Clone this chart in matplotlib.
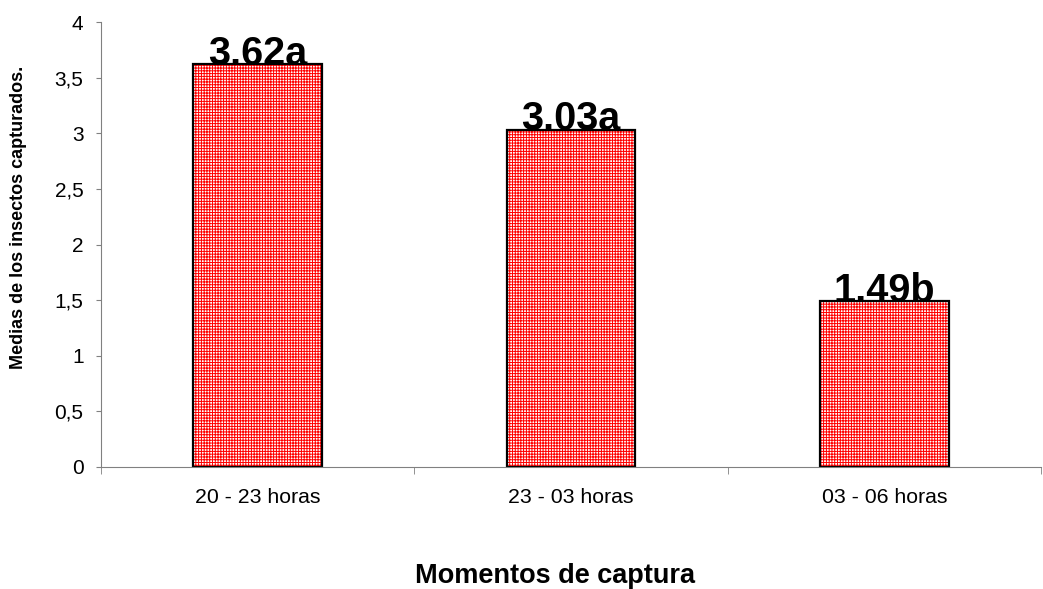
import matplotlib
matplotlib.use("Agg")
import matplotlib.pyplot as plt

categories = ["20 - 23 horas", "23 - 03 horas", "03 - 06 horas"]
values = [3.62, 3.03, 1.49]
labels = ["3.62a", "3.03a", "1.49b"]
yticks = [0, 0.5, 1, 1.5, 2, 2.5, 3, 3.5, 4]
ytick_labels = ["0", "0,5", "1", "1,5", "2", "2,5", "3", "3,5", "4"]

plt.rcParams['font.family'] = ['Liberation Sans', 'DejaVu Sans']
plt.rcParams['hatch.linewidth'] = 0.7

fig = plt.figure(figsize=(10.43, 5.89), dpi=100)
ax = fig.add_axes([101/1043, 1 - 467/589, 940/1043, 445/589])

x = list(range(len(categories)))
ax.bar(x, values, width=0.41, color='white', edgecolor='#ff0000', hatch='++++++', linewidth=0)
ax.bar(x, values, width=0.41, fill=False, edgecolor='black', linewidth=1.6)

for xi, v, lab in zip(x, values, labels):
    ax.text(xi, v - 0.005, lab, ha='center', va='baseline', fontsize=28.5, fontweight='bold')

ax.set_xlim(-0.5, 2.5)
ax.set_ylim(0, 4)
ax.set_yticks(yticks)
ax.set_yticklabels(ytick_labels, fontsize=15)
ax.set_xticks(x)
ax.set_xticklabels(categories, fontsize=15.3)
ax.tick_params(axis='x', length=0, pad=15)
ax.set_xticks([-0.5, 0.5, 1.5, 2.5], minor=True)
ax.tick_params(axis='x', which='minor', length=5, color='#808080')
ax.tick_params(axis='y', length=3.6, color='#808080', pad=9)

for s in ['top', 'right']:
    ax.spines[s].set_visible(False)
ax.spines['left'].set_color('#808080')
ax.spines['bottom'].set_color('#808080')

fig.text(19/1043, 1 - 217/589, "Medias de los insectos capturados.", rotation=90,
         ha='center', va='center', fontsize=13, fontweight='bold')
fig.text(555/1043, 1 - 576/589, "Momentos de captura", ha='center', va='center', fontsize=19.5, fontweight='bold')

fig.savefig("out.png", dpi=100)
